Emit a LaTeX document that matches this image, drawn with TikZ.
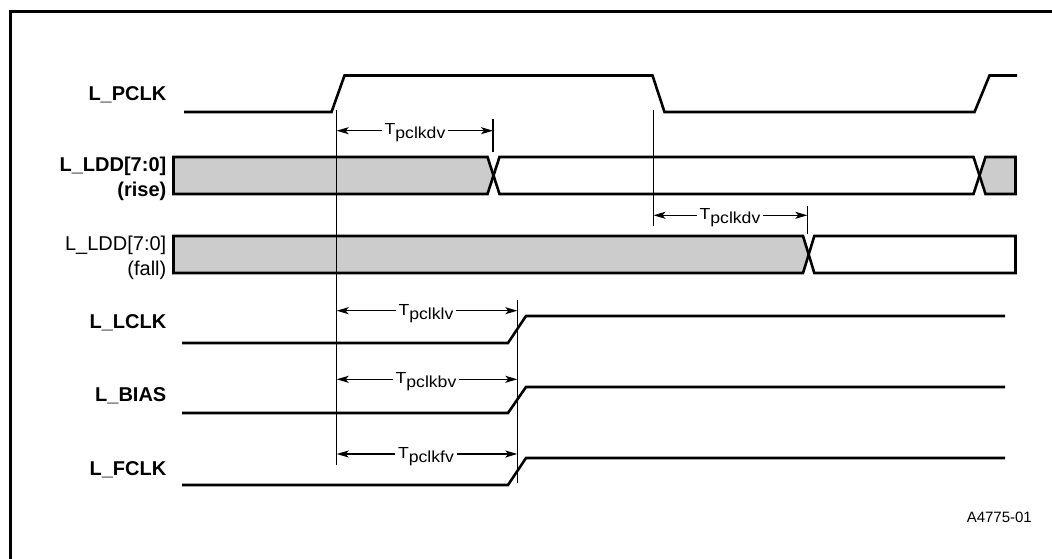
\documentclass[tikz,border=0pt]{standalone}
\usepackage{fontspec}
\setmainfont{Liberation Sans}
\usetikzlibrary{arrows.meta}
\definecolor{busgray}{RGB}{204,204,204}
\newcommand\tsubtxt[1]{\scalebox{1.1}[1]{T\raisebox{-4pt}{#1}}}
\begin{document}
\begin{tikzpicture}[x=1pt,y=-1pt,
  sig/.style={line width=2.6pt, line join=miter},
  busg/.style={line width=2.6pt, fill=busgray, line join=miter},
  busw/.style={line width=2.6pt, fill=white, line join=miter},
  refline/.style={line width=1.1pt},
  dimarrow/.style={line width=1.1pt, {Stealth[length=12pt,width=7pt,inset=3pt]}-{Stealth[length=12pt,width=7pt,inset=3pt]}},
  dimlbl/.style={anchor=base, fill=white, inner xsep=3pt, inner ysep=1pt, font=\fontsize{16}{18}\selectfont},
  lblb/.style={anchor=base east, inner sep=0pt, align=right, font=\fontsize{20}{24.5}\selectfont\bfseries},
  lblr/.style={anchor=base east, inner sep=0pt, align=right, font=\fontsize{20}{24.5}\selectfont},
  note/.style={anchor=base east, inner sep=0pt, font=\fontsize{15}{17}\selectfont}
]
\useasboundingbox (0,0) rectangle (1052,559);
% outer frame
\draw[line width=2.3pt] (10.5,570) -- (10.5,11.5) -- (1070,11.5);

% labels
\node[lblb] (lpclk) at (166.5,100.7) {L\_PCLK};
\node[lblb] (lrise) at (166.5,196) {L\_LDD[7:0]\\(rise)};
\node[lblr] (lfall) at (166.5,275) {L\_LDD[7:0]\\(fall)};
\node[lblb] (llclk) at (166.5,328.3) {L\_LCLK};
\node[lblb] (lbias) at (166.5,401.7) {L\_BIAS};
\node[lblb] (lfclk) at (166.5,475) {L\_FCLK};
\node[note] (fig) at (1032,522.3) {A4775-01};

% L_PCLK
\draw[sig] (184,112) -- (331.5,112) -- (344.5,75.5) -- (652.5,75.5) -- (664.5,112) -- (974.5,112) -- (989.5,75.5) -- (1017,75.5);

% L_LDD rise bus
\draw[busg] (173.5,157) -- (487.5,157) -- (493.5,175.5) -- (487.5,194) -- (173.5,194) -- cycle;
\draw[busw] (499.5,157) -- (973.5,157) -- (979.5,175.5) -- (973.5,194) -- (499.5,194) -- (493.5,175.5) -- cycle;
\draw[busg] (985.5,157) -- (1015.5,157) -- (1015.5,194) -- (985.5,194) -- (979.5,175.5) -- cycle;

% L_LDD fall bus
\draw[busg] (173.5,236) -- (803,236) -- (808.7,254.5) -- (803,273) -- (173.5,273) -- cycle;
\draw[busw] (814.3,236) -- (1015.5,236) -- (1015.5,273) -- (814.3,273) -- (808.7,254.5) -- cycle;

% L_LCLK, L_BIAS, L_FCLK
\draw[sig] (182,343) -- (508,343) -- (526,316) -- (1005,316);
\draw[sig] (182,413) -- (508,413) -- (526,387) -- (1005,387);
\draw[sig] (182,485) -- (508,485) -- (526,458) -- (1005,458);

% reference lines
\coordinate (ra1) at (336.7,110);
\coordinate (ra2) at (336.7,465);
\coordinate (rb1) at (653.5,110);
\coordinate (rb2) at (653.5,226);
\coordinate (rc1) at (517.3,300);
\coordinate (rc2) at (517.3,483);
\coordinate (t11) at (493,119);
\coordinate (t12) at (493,152);
\coordinate (t21) at (807.3,205.7);
\coordinate (t22) at (807.3,234);
\draw[refline] (ra1) -- (ra2);
\draw[refline] (rb1) -- (rb2);
\draw[refline] (rc1) -- (rc2);
\draw[refline] (t11) -- (t12);
\draw[refline] (t21) -- (t22);

% dimension arrows
\coordinate (d1a) at (336.7,130.7);
\coordinate (d1b) at (493,130.7);
\draw[dimarrow] (d1a) -- (d1b);
\node[dimlbl] (d1l) at (415,135) {\tsubtxt{pclkdv}};

\coordinate (d2a) at (653.5,215.3);
\coordinate (d2b) at (807.3,215.3);
\draw[dimarrow] (d2a) -- (d2b);
\node[dimlbl] (d2l) at (730,219.6) {\tsubtxt{pclkdv}};

\coordinate (d3a) at (336.7,310.7);
\coordinate (d3b) at (517.3,310.7);
\draw[dimarrow] (d3a) -- (d3b);
\node[dimlbl] (d3l) at (426,315) {\tsubtxt{pclklv}};

\coordinate (d4a) at (336.7,379.3);
\coordinate (d4b) at (517.3,379.3);
\draw[dimarrow] (d4a) -- (d4b);
\node[dimlbl] (d4l) at (426,383.6) {\tsubtxt{pclkbv}};

\coordinate (d5a) at (336.7,454);
\coordinate (d5b) at (517.3,454);
\draw[dimarrow] (d5a) -- (d5b);
\node[dimlbl] (d5l) at (426,458.3) {\tsubtxt{pclkfv}};
\end{tikzpicture}
\end{document}
